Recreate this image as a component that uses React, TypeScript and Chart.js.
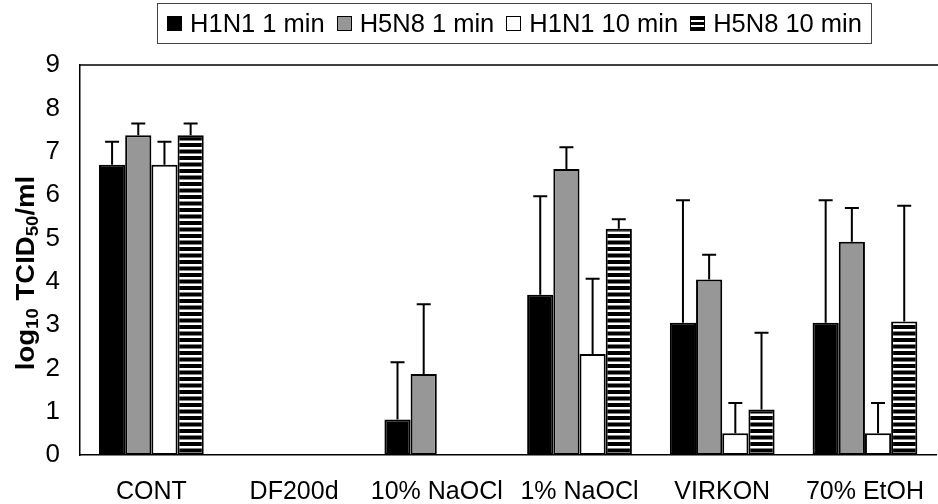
import React, { useEffect, useRef } from "react";
import { Chart, registerables } from "chart.js";

Chart.register(...registerables);

const categories = ["CONT", "DF200d", "10% NaOCl", "1% NaOCl", "VIRKON", "70% EtOH"];
const seriesNames = ["H1N1 1 min", "H5N8 1 min", "H1N1 10 min", "H5N8 10 min"];
const h1n1_1min = [6.7, 0, 0.82, 3.7, 3.05, 3.05];
const h5n8_1min = [7.38, 0, 1.87, 6.6, 4.05, 4.92];
const h1n1_10min = [6.7, 0, 0, 2.33, 0.5, 0.5];
const h5n8_10min = [7.38, 0, 0, 5.22, 1.05, 3.08];
const h1n1_1min_sd = [0.53, 0, 1.32, 2.27, 2.83, 2.83];
const h5n8_1min_sd = [0.27, 0, 1.61, 0.5, 0.57, 0.78];
const h1n1_10min_sd = [0.53, 0, 0, 1.74, 0.7, 0.7];
const h5n8_10min_sd = [0.27, 0, 0, 0.22, 1.77, 2.67];
const yTicks = [0, 1, 2, 3, 4, 5, 6, 7, 8, 9];

const FONT = "'Liberation Sans', Arial, sans-serif";

function makeStripePattern(): CanvasPattern | string {
  const c = document.createElement("canvas");
  c.width = 8;
  c.height = 13;
  const ctx = c.getContext("2d");
  if (!ctx) return "#000";
  ctx.fillStyle = "#fff";
  ctx.fillRect(0, 0, 8, 13);
  ctx.fillStyle = "#000";
  ctx.fillRect(0, 0, 8, 4);
  ctx.fillRect(0, 6.5, 8, 4);
  const p = ctx.createPattern(c, "repeat");
  return p || "#000";
}

const errorBarPlugin = {
  id: "errorBars",
  afterDatasetsDraw(chart: any) {
    const ctx = chart.ctx;
    const y = chart.scales.y;
    ctx.save();
    ctx.strokeStyle = "#000";
    ctx.lineWidth = 2;
    chart.data.datasets.forEach((ds: any, di: number) => {
      const meta = chart.getDatasetMeta(di);
      meta.data.forEach((bar: any, i: number) => {
        const sd = ds.sd[i];
        if (!sd) return;
        const v = ds.data[i];
        const y0 = y.getPixelForValue(v);
        const y1 = y.getPixelForValue(v + sd);
        ctx.beginPath();
        ctx.moveTo(bar.x, y0);
        ctx.lineTo(bar.x, y1);
        ctx.moveTo(bar.x - 7, y1);
        ctx.lineTo(bar.x + 7, y1);
        ctx.stroke();
      });
    });
    ctx.restore();
  },
};

const framePlugin = {
  id: "frame",
  afterDraw(chart: any) {
    const { ctx, chartArea } = chart;
    ctx.save();
    ctx.strokeStyle = "#000";
    ctx.lineWidth = 1.5;
    ctx.beginPath();
    ctx.moveTo(chartArea.left, chartArea.top);
    ctx.lineTo(chart.width, chartArea.top);
    ctx.stroke();
    // y-axis title with subscripts
    const parts: [string, boolean][] = [
      ["log", false],
      ["10", true],
      [" TCID", false],
      ["50", true],
      ["/ml", false],
    ];
    const big = "bold 25px " + FONT;
    const small = "bold 17px " + FONT;
    let total = 0;
    parts.forEach(([t, s]) => {
      ctx.font = s ? small : big;
      total += ctx.measureText(t).width;
    });
    const cx = 27;
    const cy = (chartArea.top + chartArea.bottom) / 2 + 13;
    ctx.translate(cx, cy);
    ctx.rotate(-Math.PI / 2);
    ctx.scale(1.1, 1);
    ctx.fillStyle = "#000";
    ctx.textBaseline = "middle";
    ctx.textAlign = "left";
    let x = -total / 2;
    parts.forEach(([t, s]) => {
      ctx.font = s ? small : big;
      ctx.fillText(t, x, s ? 6 : 0);
      x += ctx.measureText(t).width;
    });
    ctx.restore();
  },
};

export default function App() {
  const ref = useRef<HTMLCanvasElement | null>(null);

  useEffect(() => {
    if (!ref.current) return;
    const stripe = makeStripePattern();
    const common = {
      borderColor: "#000",
      borderWidth: 2,
      borderSkipped: false,
      categoryPercentage: 0.734,
      barPercentage: 1,
    };
    const chart = new Chart(ref.current, {
      type: "bar",
      data: {
        labels: categories,
        datasets: [
          { label: seriesNames[0], data: h1n1_1min, sd: h1n1_1min_sd, backgroundColor: "#000", ...common },
          { label: seriesNames[1], data: h5n8_1min, sd: h5n8_1min_sd, backgroundColor: "#979797", ...common },
          { label: seriesNames[2], data: h1n1_10min, sd: h1n1_10min_sd, backgroundColor: "#fff", ...common },
          { label: seriesNames[3], data: h5n8_10min, sd: h5n8_10min_sd, backgroundColor: stripe, ...common },
        ] as any,
      },
      options: {
        animation: false,
        responsive: false,
        layout: { padding: { top: 65, right: 0, left: 0, bottom: 0 } },
        plugins: { legend: { display: false }, tooltip: { enabled: false } },
        scales: {
          x: {
            grid: { display: false },
            border: { display: true, color: "#000", width: 1.5 },
            ticks: { color: "#000", font: { family: FONT, size: 25 }, padding: 14, maxRotation: 0, autoSkip: false },
            afterFit: (s: any) => {
              s.height = 49;
            },
          },
          y: {
            min: 0,
            max: 9,
            grid: { display: false },
            border: { display: true, color: "#000", width: 1.5 },
            ticks: {
              color: "#000",
              font: { family: FONT, size: 26 },
              padding: 12,
              stepSize: 1,
              callback: (v: any) => (yTicks.includes(Number(v)) ? String(v) : ""),
            },
            afterFit: (s: any) => {
              s.width = 80;
            },
          },
        },
      },
      plugins: [errorBarPlugin, framePlugin],
    });
    return () => chart.destroy();
  }, []);

  const sq = (bg: string): React.CSSProperties => ({
    width: 13,
    height: 13,
    border: "1px solid #000",
    background: bg,
    display: "inline-block",
    marginRight: 8,
  });
  const stripeBg = "repeating-linear-gradient(to bottom, #000 0px, #000 3px, #fff 3px, #fff 5px)";
  const items: [string, string][] = [
    [seriesNames[0], "#000"],
    [seriesNames[1], "#979797"],
    [seriesNames[2], "#fff"],
    [seriesNames[3], stripeBg],
  ];

  return (
    <div style={{ position: "fixed", left: 0, top: 0, width: 938, height: 504, background: "#fff" }}>
      <canvas ref={ref} width={938} height={504} style={{ display: "block" }} />
      <div
        style={{
          position: "absolute",
          left: 157,
          top: 3,
          width: 715,
          height: 41,
          border: "1px solid #444",
          display: "flex",
          alignItems: "center",
          justifyContent: "center",
          fontFamily: FONT,
          fontSize: 25.5,
          color: "#000",
          whiteSpace: "nowrap",
          boxSizing: "border-box",
        }}
      >
        {items.map(([name, bg], i) => (
          <span key={name} style={{ display: "inline-flex", alignItems: "center", marginLeft: i === 0 ? 0 : 12 }}>
            <span style={sq(bg)} />
            {name}
          </span>
        ))}
      </div>
    </div>
  );
}
